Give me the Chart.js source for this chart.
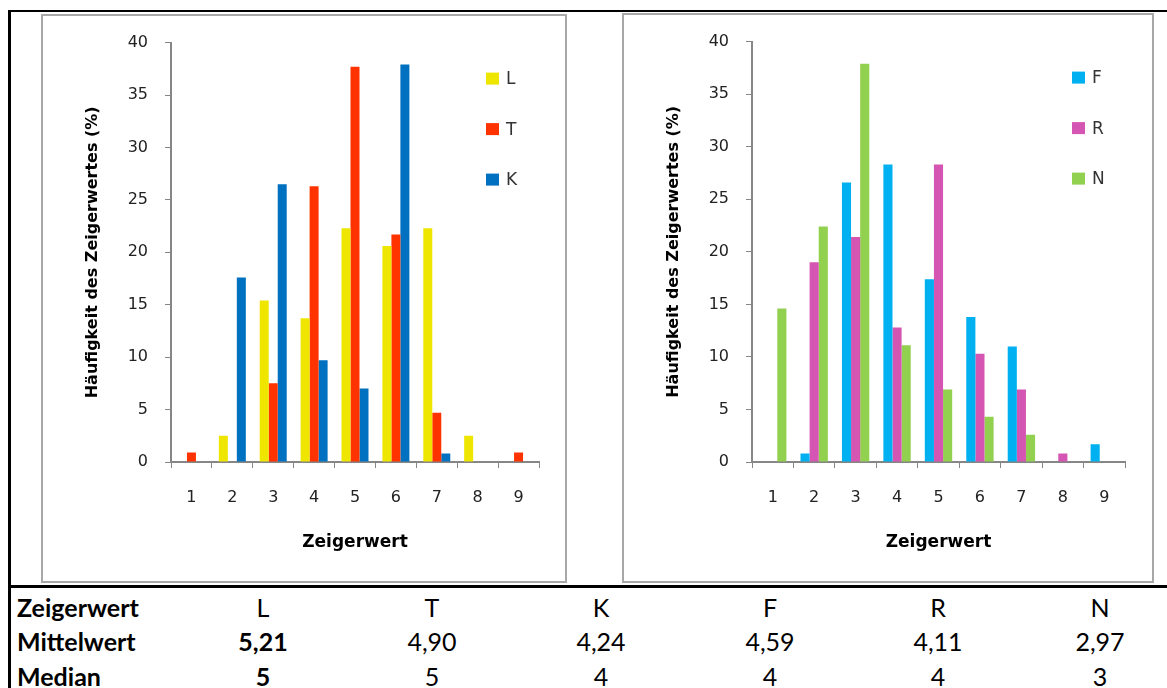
<!DOCTYPE html>
<html>
<head>
<meta charset="utf-8">
<script src="https://cdn.jsdelivr.net/npm/chart.js@4"></script>
<style>
  body { margin: 0; background: #fff; width: 1167px; height: 688px; overflow: hidden; position: relative; }
  .line { position: absolute; background: #000; }
  .box { position: absolute; border: 2px solid #a8a8a8; background: #fff; }
  .box canvas { display: block; }
  .row { position: absolute; left: 0; width: 1167px; height: 34px; line-height: 34px;
         font-family: Lato, "Open Sans", sans-serif; font-size: 25px; color: #000; }
  .row div { position: absolute; top: 0; width: 140px; text-align: center; }
  .row div.head { left: 17px; width: 200px; text-align: left; font-weight: bold; }
  .b { font-weight: bold; }
</style>
</head>
<body>
<div class="line" style="left:8px;top:10px;width:1159px;height:2px"></div>
<div class="line" style="left:8px;top:10px;width:3px;height:678px"></div>
<div class="line" style="left:8px;top:585px;width:1159px;height:3px"></div>

<div class="box" style="left:41px;top:14px;width:522px;height:565px">
  <canvas id="chartLTK" width="522" height="565"></canvas>
</div>
<div class="box" style="left:622px;top:13px;width:528px;height:566px">
  <canvas id="chartFRN" width="528" height="566"></canvas>
</div>

<div id="table"></div>

<script>
// Zeigerwert classes 1..9
const zeigerwerte = ['1', '2', '3', '4', '5', '6', '7', '8', '9'];

// Haeufigkeit (%) per class
const L = [0, 2.5, 15.4, 13.7, 22.3, 20.6, 22.3, 2.5, 0];
const T = [0.9, 0, 7.5, 26.3, 37.7, 21.7, 4.7, 0, 0.9];
const K = [0, 17.6, 26.5, 9.7, 7.0, 37.9, 0.8, 0, 0];
const F = [0, 0.8, 26.6, 28.3, 17.4, 13.8, 11.0, 0, 1.7];
const R = [0, 19.0, 21.4, 12.8, 28.3, 10.3, 6.9, 0.8, 0];
const N = [14.6, 22.4, 37.9, 11.1, 6.9, 4.3, 2.6, 0, 0];

// table below the charts
const tabKeys = ['L', 'T', 'K', 'F', 'R', 'N'];
const mittelwert = ['5,21', '4,90', '4,24', '4,59', '4,11', '2,97'];
const median = ['5', '5', '4', '4', '4', '3'];

const FONT = '"DejaVu Sans", Verdana, sans-serif';
const AXIS = '#868686';

// legend drawn inside the plot area, top right
const innerLegend = {
  id: 'innerLegend',
  afterDraw(chart) {
    const ctx = chart.ctx;
    const area = chart.chartArea;
    ctx.save();
    ctx.font = '17px ' + FONT;
    ctx.textBaseline = 'middle';
    chart.data.datasets.forEach((ds, i) => {
      const x = area.right - 53;
      const y = area.top + 36 + i * 50.5;
      ctx.fillStyle = ds.backgroundColor;
      ctx.fillRect(x, y - 6, 13, 12);
      ctx.fillStyle = '#333';
      ctx.fillText(ds.label, x + 20, y + 1);
    });
    ctx.restore();
  }
};

function makeChart(id, series, padRight) {
  return new Chart(document.getElementById(id), {
    type: 'bar',
    data: {
      labels: zeigerwerte,
      datasets: series.map(s => ({
        label: s.label,
        data: s.data,
        backgroundColor: s.color,
        borderWidth: 0,
        categoryPercentage: 0.66,
        barPercentage: 1.0,
      })),
    },
    options: {
      responsive: false,
      animation: false,
      devicePixelRatio: 1,
      layout: { padding: { left: 40, top: 22, right: padRight, bottom: 28 } },
      plugins: {
        legend: { display: false },
        tooltip: { enabled: false },
      },
      scales: {
        x: {
          grid: { offset: true, drawOnChartArea: false, tickLength: 6, tickColor: AXIS, color: AXIS },
          border: { color: AXIS, width: 2 },
          ticks: { padding: 20, color: '#222', font: { family: FONT, size: 16 } },
          title: { display: true, text: 'Zeigerwert', color: '#000', padding: 0,
                   font: { family: FONT, size: 17, weight: 'bold' } },
          afterFit(scale) { scale.height = 91; },
        },
        y: {
          min: 0,
          max: 40,
          grid: { drawOnChartArea: false, tickLength: 6, tickColor: AXIS, color: AXIS },
          border: { color: AXIS, width: 2 },
          ticks: { stepSize: 5, padding: 17, color: '#222', font: { family: FONT, size: 16 } },
          title: { display: true, text: 'Häufigkeit des Zeigerwertes (%)', color: '#000', padding: 0,
                   font: { family: FONT, size: 16, weight: 'bold' } },
          afterFit(scale) { scale.width = 88; },
        },
      },
    },
    plugins: [innerLegend],
  });
}

makeChart('chartLTK', [
  { label: 'L', data: L, color: '#EFE600' },
  { label: 'T', data: T, color: '#FF3300' },
  { label: 'K', data: K, color: '#0070C0' },
], 26);

makeChart('chartFRN', [
  { label: 'F', data: F, color: '#00B0F0' },
  { label: 'R', data: R, color: '#D456B2' },
  { label: 'N', data: N, color: '#92D050' },
], 27);

// table rows
const colX = [263, 432, 601, 770, 938, 1100];
const rows = [
  { head: 'Zeigerwert', cells: tabKeys, y: 607 },
  { head: 'Mittelwert', cells: mittelwert, y: 641 },
  { head: 'Median', cells: median, y: 676 },
];
const table = document.getElementById('table');
rows.forEach(r => {
  const row = document.createElement('div');
  row.className = 'row';
  row.style.top = (r.y - 17) + 'px';
  const h = document.createElement('div');
  h.className = 'head';
  h.textContent = r.head;
  row.appendChild(h);
  r.cells.forEach((c, i) => {
    const d = document.createElement('div');
    d.style.left = (colX[i] - 70) + 'px';
    d.textContent = c;
    if (i === 0 && r.head !== 'Zeigerwert') d.className = 'b';
    row.appendChild(d);
  });
  table.appendChild(row);
});
</script>
</body>
</html>
